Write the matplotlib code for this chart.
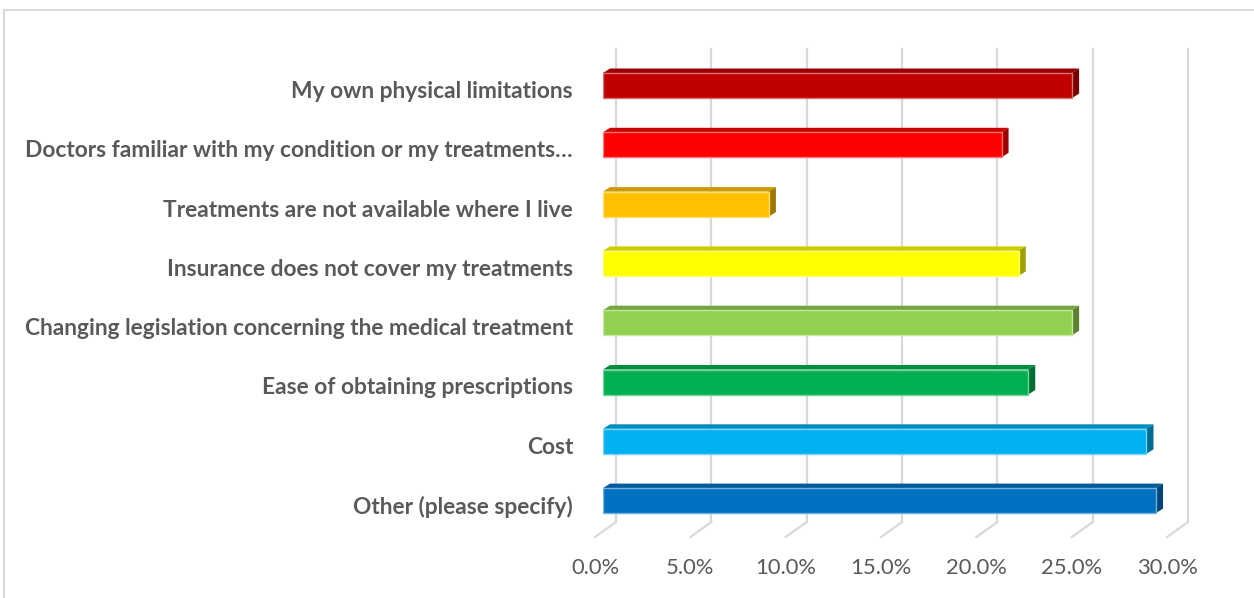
"""
3D-style horizontal bar chart of reported barriers, drawn with plain matplotlib
"""

import matplotlib
matplotlib.use('Agg')
from matplotlib import pyplot as plt
from matplotlib.patches import Polygon, Rectangle
import numpy as np


# data (top to bottom as shown)
CATEGORIES = [
    'My own physical limitations',
    'Doctors familiar with my condition or my treatments\u2026',
    'Treatments are not available where I live',
    'Insurance does not cover my treatments',
    'Changing legislation concerning the medical treatment',
    'Ease of obtaining prescriptions',
    'Cost',
    'Other (please specify)',
]
VALUES = [24.6, 20.9, 8.7, 21.8, 24.6, 22.3, 28.5, 29.0]
COLORS = ['#C00000', '#FF0000', '#FFC000', '#FFFF00',
          '#92D050', '#00B050', '#00B0F0', '#0070C0']
TICKS = [0, 5, 10, 15, 20, 25, 30]
TICK_LABELS = ['0.0%', '5.0%', '10.0%', '15.0%', '20.0%', '25.0%', '30.0%']

# layout constants (pixels)
W, H = 1254, 598
X0_PX = 603          # bar plane, value 0
PX_PER_PCT = 19.07
ROW_TOP_PX = 85.5    # centre of first bar
ROW_STEP_PX = 59.3
FLOOR_PX = 531       # floor at the bar plane
TOP_PX = 58
BAR_H = 25 / ROW_STEP_PX

TEXT_CLR = '#595959'
GRID_CLR = '#D9D9D9'


def shade(color, factor):
    rgb = np.array(matplotlib.colors.to_rgb(color))
    return tuple(rgb * factor)


def tint(color, amount):
    rgb = np.array(matplotlib.colors.to_rgb(color))
    return tuple(rgb + (1 - rgb) * amount)


def draw_chart():
    fig = plt.figure(figsize=(W / 100, H / 100), dpi=100)
    fig.patch.set_facecolor('white')

    # outer chart border
    fig.patches.append(Rectangle((4 / W, -0.01), (W - 2) / W, (H - 10) / H + 0.01,
                                 transform=fig.transFigure, fill=False,
                                 edgecolor=GRID_CLR, linewidth=1.5))

    n = len(CATEGORIES)
    ys = np.arange(n)[::-1]   # first category on top
    y_of_px = lambda px: (ROW_TOP_PX + (n - 1) * ROW_STEP_PX - px) / ROW_STEP_PX
    ylo, yhi = y_of_px(FLOOR_PX), y_of_px(TOP_PX)

    ax = fig.add_axes([X0_PX / W, (H - FLOOR_PX) / H,
                       30 * PX_PER_PCT / W, (FLOOR_PX - TOP_PX) / H])
    ax.set_xlim(0, 30)
    ax.set_ylim(ylo, yhi)
    ax.axis('off')

    # pixel offsets turned into data units
    dx = lambda px: px / PX_PER_PCT
    dy = lambda px: px / ROW_STEP_PX
    back_dx, back_dy = dx(13), dy(9)
    front_dx, front_dy = dx(-8), dy(-6)
    depth_dx, depth_dy = dx(7), dy(4.5)

    # back wall gridlines and floor diagonals
    for t in TICKS:
        ax.plot([t + back_dx, t + back_dx], [ylo + back_dy, yhi + back_dy],
                color=GRID_CLR, lw=1.6, clip_on=False, zorder=1)
        ax.plot([t + front_dx, t + back_dx], [ylo + front_dy, ylo + back_dy],
                color=GRID_CLR, lw=1.6, clip_on=False, zorder=1)

    # bars: front face plus top and side faces
    for y, v, c in zip(ys, VALUES, COLORS):
        top, bot = y + BAR_H / 2, y - BAR_H / 2
        ax.add_patch(Polygon([(0, top), (v, top), (v + depth_dx, top + depth_dy),
                              (depth_dx, top + depth_dy)],
                             closed=True, facecolor=shade(c, 0.8),
                             edgecolor='none', zorder=3, clip_on=False))
        ax.add_patch(Polygon([(v, bot), (v, top), (v + depth_dx, top + depth_dy),
                              (v + depth_dx, bot + depth_dy)],
                             closed=True, facecolor=shade(c, 0.62),
                             edgecolor='none', zorder=3, clip_on=False))
    ax.barh(ys, VALUES, height=BAR_H, color=COLORS,
            edgecolor=[tint(c, 0.45) for c in COLORS], linewidth=1.0, zorder=4)

    # category labels
    for y, label in zip(ys, CATEGORIES):
        ax.text(dx(-30), y - dy(6), label, ha='right', va='center',
                fontsize=16.4, fontweight='bold', color=TEXT_CLR,
                family='Lato', clip_on=False)

    # value axis labels along the front floor edge
    for t, label in zip(TICKS, TICK_LABELS):
        ax.text(t + front_dx, y_of_px(568), label, ha='center', va='center',
                fontsize=15.8, color=TEXT_CLR, family='Lato', clip_on=False)

    fig.savefig('out.png', dpi=100)


if __name__ == '__main__':
    draw_chart()
